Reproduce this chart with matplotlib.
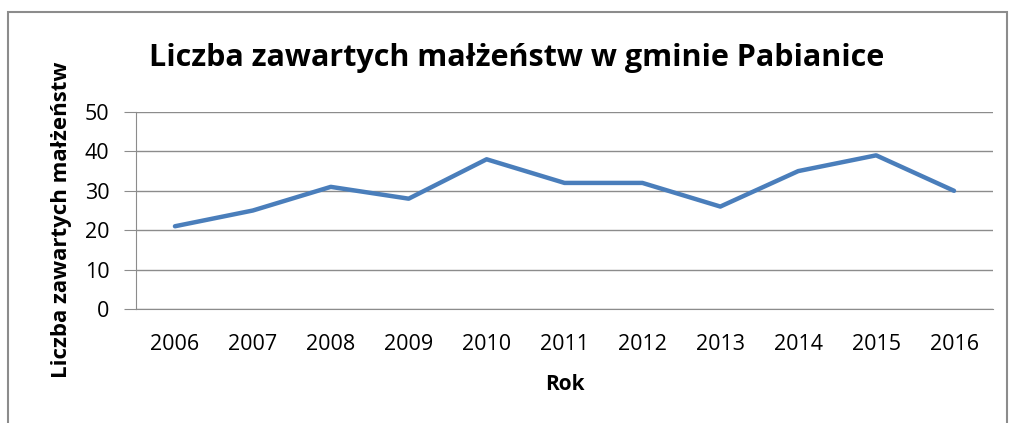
import matplotlib.pyplot as plt
from matplotlib.patches import Rectangle

# data
years = ['2006', '2007', '2008', '2009', '2010', '2011', '2012', '2013', '2014', '2015', '2016']
marriages = [21, 25, 31, 28, 38, 32, 32, 26, 35, 39, 30]
y_ticks = [0, 10, 20, 30, 40, 50]

plt.rcParams['font.family'] = ['Open Sans', 'DejaVu Sans']

W, H = 1010, 423
fig = plt.figure(figsize=(W / 100, H / 100), dpi=100)

# outer chart frame (grey border, open at the bottom edge of the image)
fig.patches.append(Rectangle((8 / W, -0.1), (1007 - 8) / W, (H - 12) / H + 0.1,
                             transform=fig.transFigure, fill=False,
                             edgecolor='#8c8c8c', linewidth=1.5))

ax = fig.add_axes([136 / W, (H - 309) / H, (993 - 136) / W, (309 - 112) / H])

x = range(len(years))
ax.plot(x, marriages, color='#4a7ebb', linewidth=3.2, solid_joinstyle='round',
        solid_capstyle='round')

ax.set_xlim(-0.5, len(years) - 0.5)
ax.set_ylim(0, 50)
ax.set_yticks(y_ticks)
ax.set_xticks(list(x))
ax.set_xticklabels(years)

ax.grid(axis='y', color='#8c8c8c', linewidth=1)
ax.set_axisbelow(True)
for s in ['top', 'right']:
    ax.spines[s].set_visible(False)
ax.spines['left'].set_color('#8c8c8c')
ax.spines['bottom'].set_color('#8c8c8c')
ax.tick_params(axis='y', length=9, color='#8c8c8c', labelsize=15.5, pad=10)
ax.tick_params(axis='x', length=0, labelsize=15.5, pad=18)

ax.set_xlabel('Rok', fontsize=15, fontweight='bold', labelpad=14)
ax.set_ylabel('Liczba zawartych małżeństw', fontsize=16, fontweight='bold')
ax.yaxis.set_label_coords(-64 / (993 - 136), (309 - 220) / (309 - 112))

fig.text(517 / W, 1 - 58 / H, 'Liczba zawartych małżeństw w gminie Pabianice',
         ha='center', va='center', fontsize=22, fontweight='bold')

fig.savefig('out.png', dpi=100)
